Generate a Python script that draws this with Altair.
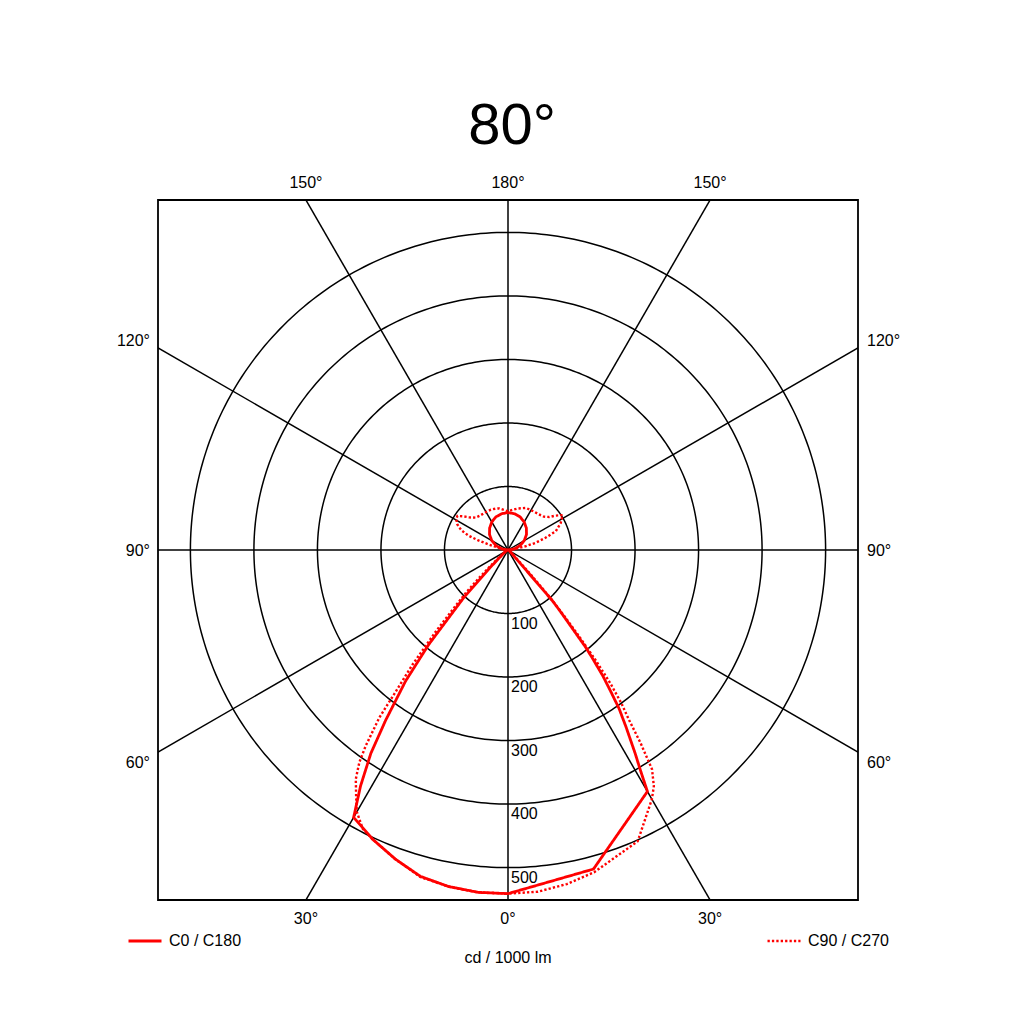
import numpy as np
import pandas as pd
import altair as alt

# ---------------- data ----------------
TITLE = "80°"
UNIT_LABEL = "cd / 1000 lm"
RING_VALUES = [100, 200, 300, 400, 500]
TOP_LABELS = ["150°", "180°", "150°"]
BOTTOM_LABELS = ["30°", "0°", "30°"]
SIDE_LABELS = ["120°", "90°", "60°"]
RAY_ANGLES = [0, 30, 60, 90, 120, 150]

# C0 (right half, solid)
GAMMA_C0 = [0, 15, 30, 31, 32, 33.7, 35, 36, 37, 38, 38.6, 39.5, 40.5, 41.2, 45, 50, 60, 75, 90,
            100, 110, 120, 130, 140, 150, 160, 170, 180]
I_C0 = [541, 520, 439, 405, 378, 335, 305, 275, 248, 215, 196, 155, 125, 106, 12, 5, 2, 1, 0,
        10, 20, 29.5, 38, 45, 51, 55.5, 58, 59]

# C180 (left half, solid)
GAMMA_C180 = [0, 5, 10, 15, 20, 25, 30, 32, 34, 35.7, 38, 40, 42.9, 45.5, 50, 60, 75, 90,
              100, 110, 120, 130, 140, 150, 160, 170, 180]
I_C180 = [541, 541, 538, 532, 518, 503, 486, 438, 386, 330, 262, 194, 102, 40, 12, 4, 1, 0,
          10, 20, 29.5, 38, 45, 51, 55.5, 58, 59]

# C90 (right half, dotted)
GAMMA_C90 = [0, 5, 10, 15, 24, 30, 31.7, 33.3, 34.5, 35.5, 36.5, 37.5, 38.5, 39.5, 40.5, 41.5, 43, 45,
             50, 60, 75, 90, 95, 100, 102, 104.6, 108, 111.5, 117, 122.6, 126, 128.7, 133, 137, 146,
             157, 167, 175, 180]
I_C90 = [541, 540, 534, 525, 502, 453, 437, 413, 368, 327, 300, 265, 222, 175, 135, 100, 50, 20,
         6, 3, 1, 0, 3, 12, 28, 45, 62, 81, 93, 102, 92, 83, 77, 75, 73,
         72, 67, 63, 61]

# C270 (left half, dotted)
GAMMA_C270 = [0, 5, 10, 15, 20, 25, 27.5, 30, 31.7, 33.6, 35, 36, 37.5, 38.4, 39.8, 41.6, 43, 44.5,
              46, 48, 50, 60, 75, 90, 95, 100, 103, 106, 108, 110, 113, 117, 121, 124, 127, 130,
              135, 140, 150, 157, 163, 168, 175, 180]
I_C270 = [541, 541, 538, 533, 518, 503, 495, 476, 455, 433, 408, 381, 333, 285, 235, 170, 125, 95,
          65, 35, 20, 5, 1, 0, 3, 8, 15, 32, 50, 66, 80, 90, 95, 96, 88, 80,
          72, 70, 69, 69, 68, 67, 63, 61]

# ---------------- geometry helpers ----------------
D = 551  # half extent of the square plot, in cd
FONT = "Liberation Sans, Arial, sans-serif"
sx = alt.Scale(domain=[-D, D], nice=False, zero=False)
sy = alt.Scale(domain=[-D, D], nice=False, zero=False)
X = lambda f="x": alt.X(f"{f}:Q", scale=sx, axis=None)
Y = lambda f="y": alt.Y(f"{f}:Q", scale=sy, axis=None)


def curve_frame(g_left, i_left, g_right, i_right, name):
    rows = []
    k = 0
    for g, v in sorted(zip(g_left, i_left), key=lambda p: -p[0]):
        a = np.radians(g)
        rows.append({"x": -v * np.sin(a), "y": -v * np.cos(a), "k": k, "plane": name}); k += 1
    for g, v in sorted(zip(g_right, i_right), key=lambda p: p[0]):
        a = np.radians(g)
        rows.append({"x": v * np.sin(a), "y": -v * np.cos(a), "k": k, "plane": name}); k += 1
    return pd.DataFrame(rows)


solid_df = curve_frame(GAMMA_C180, I_C180, GAMMA_C0, I_C0, "C0 / C180")
dotted_df = curve_frame(GAMMA_C270, I_C270, GAMMA_C90, I_C90, "C90 / C270")

circ_rows = []
for r in RING_VALUES:
    for j, t in enumerate(np.linspace(0, 2 * np.pi, 361)):
        circ_rows.append({"x": r * np.sin(t), "y": r * np.cos(t), "r": r, "k": j})
circ_df = pd.DataFrame(circ_rows)

L = 2000
ray_df = pd.DataFrame([
    {"x": L * np.sin(np.radians(a)), "y": -L * np.cos(np.radians(a)),
     "x2": -L * np.sin(np.radians(a)), "y2": L * np.cos(np.radians(a))}
    for a in RAY_ANGLES
])

circles = alt.Chart(circ_df).mark_line(color="black", strokeWidth=1.5).encode(
    x=X(), y=Y(), detail="r:N", order="k:Q")
rays = alt.Chart(ray_df).mark_rule(color="black", strokeWidth=1.5, clip=True).encode(
    x=X(), y=Y(), x2="x2:Q", y2="y2:Q")

leg_common = dict(orient="none", title=None, symbolType="stroke", symbolSize=1089,
                  symbolStrokeColor="#ff0000", labelFont=FONT, labelFontSize=16,
                  labelColor="black", labelOffset=6, padding=0)

solid = alt.Chart(solid_df).mark_line(color="#ff0000", strokeWidth=2.8).encode(
    x=X(), y=Y(), order="k:Q",
    strokeDash=alt.StrokeDash("plane:N", scale=alt.Scale(domain=["C0 / C180"], range=[[1, 0]]),
                              legend=alt.Legend(legendX=-31, legendY=723,
                                                symbolStrokeWidth=2.8, **leg_common)))
dotted = alt.Chart(dotted_df).mark_line(color="#ff0000", strokeWidth=2.4, strokeCap="butt").encode(
    x=X(), y=Y(), order="k:Q",
    strokeDash=alt.StrokeDash("plane:N", scale=alt.Scale(domain=["C90 / C270"], range=[[2.3, 2.1]]),
                              legend=alt.Legend(legendX=608, legendY=723,
                                                symbolStrokeWidth=2.4, **leg_common)))

t30 = D * np.tan(np.radians(30))


def text_layer(df, **mk):
    return alt.Chart(df).mark_text(font=FONT, baseline="alphabetic", color="black", **mk).encode(
        x=X(), y=Y(), text="t:N")


layers = [circles, rays]
layers.append(text_layer(pd.DataFrame({"x": [0], "y": [D], "t": [TITLE]}),
                         fontSize=58, align="center", dx=4, dy=-56))
layers.append(text_layer(pd.DataFrame({"x": [-t30, 0, t30], "y": [D] * 3, "t": TOP_LABELS}),
                         fontSize=16, align="center", dy=-12))
layers.append(text_layer(pd.DataFrame({"x": [-t30, 0, t30], "y": [-D] * 3, "t": BOTTOM_LABELS}),
                         fontSize=16, align="center", dy=24))
side_y = [t30, 0, -t30]
side_dy = [-2, 6, 16]
for lab, yy, ddy in zip(SIDE_LABELS, side_y, side_dy):
    layers.append(text_layer(pd.DataFrame({"x": [-D], "y": [yy], "t": [lab]}),
                             fontSize=16, align="right", dx=-8, dy=ddy))
    layers.append(text_layer(pd.DataFrame({"x": [D], "y": [yy], "t": [lab]}),
                             fontSize=16, align="left", dx=9, dy=ddy))
layers.append(text_layer(pd.DataFrame({"x": [0] * 5, "y": [-v for v in RING_VALUES],
                                       "t": [str(v) for v in RING_VALUES]}),
                         fontSize=16, align="left", dx=3, dy=15))
layers.append(text_layer(pd.DataFrame({"x": [0], "y": [-D], "t": [UNIT_LABEL]}),
                         fontSize=16, align="center", dy=63))
layers += [dotted, solid]

chart = alt.layer(*layers).resolve_scale(strokeDash="independent").properties(
    width=700, height=700,
    padding={"left": 150, "top": 192, "right": 150, "bottom": 100},
    autosize=alt.AutoSizeParams(type="none"),
).configure_view(stroke="black", strokeWidth=1.8)

chart.save("out.html", embed_options={"renderer": "svg", "actions": False})
